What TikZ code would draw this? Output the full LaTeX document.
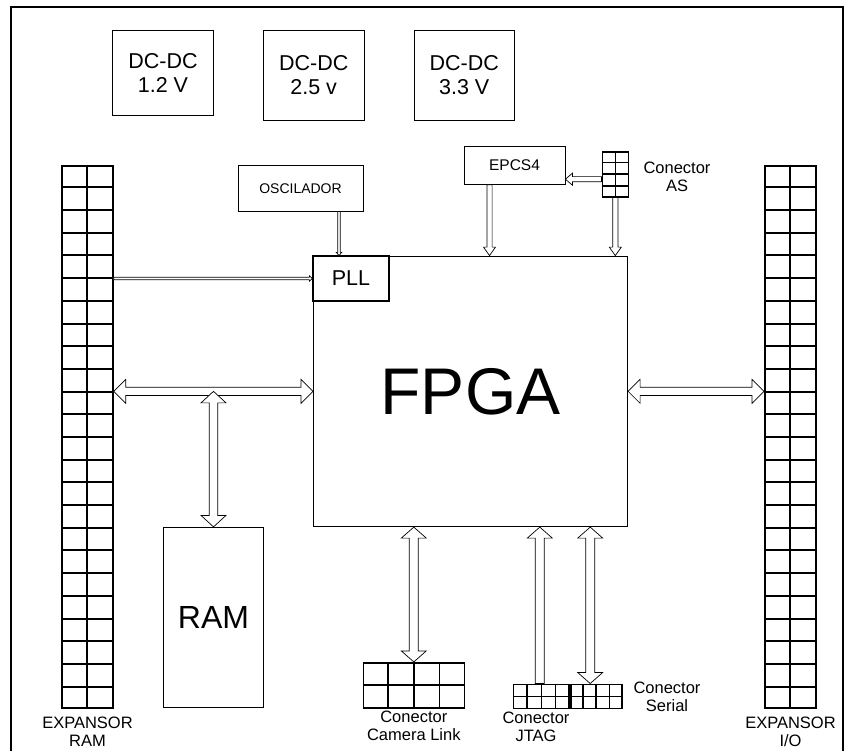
\documentclass[tikz,border=0pt]{standalone}
\usepackage{fontspec}
\setmainfont{Liberation Sans}
\usetikzlibrary{calc}
\tikzset{
  box/.style={draw, line width=0.8pt, inner sep=0pt, align=center},
  gridbox/.style={draw, line width=2pt, inner sep=0pt},
  smallgrid/.style={draw, line width=1.6pt, inner sep=0pt},
  lbl/.style={align=center, inner sep=0pt, font=\fontsize{16.5}{18}\selectfont},
  busline/.style={draw=black, fill=white, line width=0.7pt, line join=miter},
  frameline/.style={line width=1.4pt},
}
% double-headed hollow arrow: #1 from, #2 to, #3 shaft half width, #4 head half width, #5 head length
\newcommand\busboth[5]{%
  \path[busline] let \p1=(#1), \p2=(#2), \n1={veclen(\x2-\x1,\y2-\y1)},
      \n2={(\x2-\x1)/\n1}, \n3={(\y2-\y1)/\n1} in
    (\p1)
    -- ({\x1+#5*\n2-#4*\n3},{\y1+#5*\n3+#4*\n2})
    -- ({\x1+#5*\n2-#3*\n3},{\y1+#5*\n3+#3*\n2})
    -- ({\x2-#5*\n2-#3*\n3},{\y2-#5*\n3+#3*\n2})
    -- ({\x2-#5*\n2-#4*\n3},{\y2-#5*\n3+#4*\n2})
    -- (\p2)
    -- ({\x2-#5*\n2+#4*\n3},{\y2-#5*\n3-#4*\n2})
    -- ({\x2-#5*\n2+#3*\n3},{\y2-#5*\n3-#3*\n2})
    -- ({\x1+#5*\n2+#3*\n3},{\y1+#5*\n3-#3*\n2})
    -- ({\x1+#5*\n2+#4*\n3},{\y1+#5*\n3-#4*\n2})
    -- cycle;}
% single-headed hollow arrow, tip at #2
\newcommand\busone[5]{%
  \path[busline] let \p1=(#1), \p2=(#2), \n1={veclen(\x2-\x1,\y2-\y1)},
      \n2={(\x2-\x1)/\n1}, \n3={(\y2-\y1)/\n1} in
    ({\x1-#3*\n3},{\y1+#3*\n2})
    -- ({\x2-#5*\n2-#3*\n3},{\y2-#5*\n3+#3*\n2})
    -- ({\x2-#5*\n2-#4*\n3},{\y2-#5*\n3+#4*\n2})
    -- (\p2)
    -- ({\x2-#5*\n2+#4*\n3},{\y2-#5*\n3-#4*\n2})
    -- ({\x2-#5*\n2+#3*\n3},{\y2-#5*\n3-#3*\n2})
    -- ({\x1+#3*\n3},{\y1-#3*\n2})
    -- cycle;}
% cell lines inside a node: #1 node, #2 cols, #3 rows, #4 line width
\newcommand\cells[4]{%
  \pgfmathtruncatemacro\cellC{#2-1}%
  \pgfmathtruncatemacro\cellR{#3-1}%
  \foreach \i in {1,...,\cellC}
    \draw[line width=#4] ($(#1.north west)!\i/#2!(#1.north east)$) -- ($(#1.south west)!\i/#2!(#1.south east)$);
  \foreach \j in {1,...,\cellR}
    \draw[line width=#4] ($(#1.north west)!\j/#3!(#1.south west)$) -- ($(#1.north east)!\j/#3!(#1.south east)$);
}
\begin{document}
\begin{tikzpicture}[x=1pt, y=-1pt]
\useasboundingbox (0,0) rectangle (854,750);
\fill[white] (0,0) rectangle (854,750);
% frame
\draw[frameline] (11,752) -- (11,7) -- (843,7) -- (843,752);

% DC-DC converters
\node[box, minimum width=100.6pt, minimum height=85pt, font=\fontsize{21.5}{24}\selectfont] (dc1) at (163,72.5) {DC-DC\\1.2 V};
\node[box, minimum width=100.6pt, minimum height=90pt, font=\fontsize{21.5}{24}\selectfont] (dc2) at (313.7,75) {DC-DC\\2.5 v};
\node[box, minimum width=100.6pt, minimum height=90pt, font=\fontsize{21.5}{24}\selectfont] (dc3) at (464.2,75) {DC-DC\\3.3 V};

% oscillator, EPCS4
\node[box, minimum width=125pt, minimum height=45.3pt, font=\fontsize{14}{16}\selectfont] (osc) at (300.5,188.4) {OSCILADOR};
\node[box, minimum width=101pt, minimum height=38.3pt, font=\fontsize{15.5}{18}\selectfont] (epcs) at (514.5,165.2) {EPCS4};

% FPGA and PLL
\node[box, minimum width=314.4pt, minimum height=270.7pt, font=\fontsize{66}{72}\selectfont] (fpga) at (470.5,391.35) {FPGA};
\node[box, line width=1.3pt, minimum width=76pt, minimum height=45pt, font=\fontsize{21.5}{24}\selectfont] (pll) at (351,278.5) {PLL};

% RAM
\node[box, minimum width=100.4pt, minimum height=180.4pt, font=\fontsize{32}{36}\selectfont] (ram) at (213.5,617.5) {RAM};

% expansors
\node[gridbox, minimum width=50.6pt, minimum height=542.6pt] (expL) at (87.35,437) {};
\cells{expL}{2}{24}{2pt}
\node[gridbox, minimum width=50.6pt, minimum height=542.6pt] (expR) at (790.35,437) {};
\cells{expR}{2}{24}{2pt}
\node[lbl, anchor=north] (expLlbl) at (87.5,717) {EXPANSOR\\RAM};
\node[lbl, anchor=north] (expRlbl) at (790.5,717) {EXPANSOR\\I/O};

% Conector AS
\node[smallgrid, minimum width=26pt, minimum height=45pt] (as) at (615.3,174.2) {};
\cells{as}{2}{4}{1.6pt}
\node[lbl] (aslbl) at (677,177) {Conector\\AS};

% Camera link
\node[smallgrid, minimum width=101pt, minimum height=45pt] (cam) at (413.8,685.2) {};
\cells{cam}{4}{2}{1.6pt}
\node[lbl, anchor=north] (camlbl) at (413.8,711) {Conector\\Camera Link};

% JTAG, Serial
\node[smallgrid, minimum width=55.3pt, minimum height=24pt] (jtag) at (541.3,696.3) {};
\cells{jtag}{4}{2}{1.6pt}
\node[smallgrid, minimum width=51pt, minimum height=24pt] (serial) at (596.2,696.3) {};
\cells{serial}{4}{2}{1.6pt}
\node[lbl, anchor=north] (jtaglbl) at (536,711.5) {Conector\\JTAG};
\node[lbl] (seriallbl) at (667,697) {Conector\\Serial};

% helper coordinates
\coordinate (oscx) at ([xshift=-12pt]pll.north);
\coordinate (epcsx) at ([xshift=-25pt]epcs.south);
\coordinate (asy) at ([yshift=-5pt]as.west);
\coordinate (serx) at ([xshift=-6pt]serial.north);
\coordinate (jtx) at ([xshift=-1.5pt]jtag.north);

% thin arrows to PLL
\busone{oscx |- osc.south}{oscx}{1.3pt}{2.8pt}{3pt}
\busone{expL.east |- pll.west}{pll.west}{1.3pt}{2.8pt}{3pt}

% EPCS4 / AS arrows
\busone{epcsx}{epcsx |- fpga.north}{2.6pt}{6pt}{8.5pt}
\busone{as.south}{as.south |- fpga.north}{2.6pt}{6pt}{8.5pt}
\busone{asy}{asy -| epcs.east}{2.6pt}{6pt}{7pt}

% main buses
\busboth{expL.east |- fpga.west}{fpga.west}{4.2pt}{12pt}{12pt}
\busboth{fpga.east}{expR.west |- fpga.east}{4.2pt}{12pt}{12pt}
\busboth{ram.north |- fpga.west}{ram.north}{4.2pt}{12.5pt}{11.5pt}

% bottom buses
\busboth{fpga.south -| cam.north}{cam.north}{4.5pt}{12.5pt}{11pt}
\busone{jtx}{jtx |- fpga.south}{4.5pt}{12.5pt}{11pt}
\busboth{serx |- fpga.south}{serx}{4.5pt}{12.5pt}{11pt}
\end{tikzpicture}
\end{document}
